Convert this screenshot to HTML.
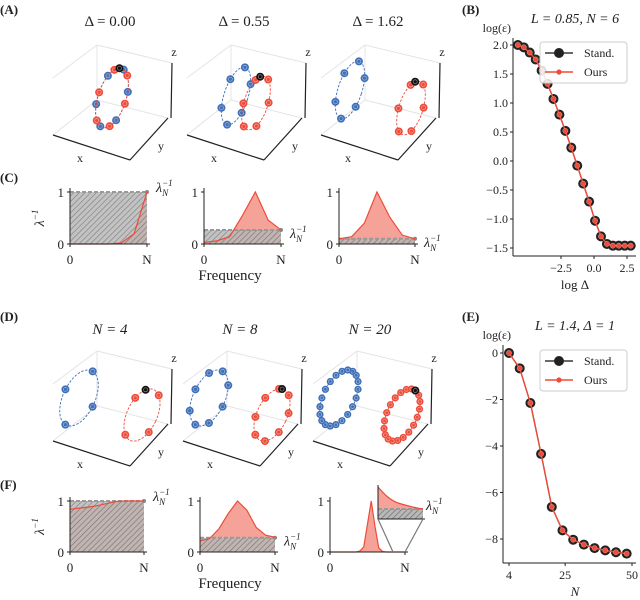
<!DOCTYPE html>
<html><head><meta charset="utf-8"><style>
body{margin:0;background:#fff}
svg{display:block;font-family:"Liberation Serif",serif}
</style></head><body>
<svg id="fig" width="640" height="600" viewBox="0 0 640 600" xmlns="http://www.w3.org/2000/svg">
<defs>
<pattern id="hatch" width="4" height="4" patternUnits="userSpaceOnUse" patternTransform="rotate(45)">
<rect width="4" height="4" fill="#b8b8b8"/>
<line x1="0" y1="0" x2="0" y2="4" stroke="#6a6a6a" stroke-width="1.3"/>
</pattern>
</defs>
<g id="root"></g>
</svg>
<script>
// ---- Panel B data ----
const bX = [-5.77,-5.32,-4.87,-4.42,-3.97,-3.52,-3.07,-2.62,-2.17,-1.72,-1.27,-0.82,-0.37,0.08,0.53,0.98,1.43,1.88,2.33,2.78];
const bStand = [2.0,1.96,1.87,1.75,1.56,1.33,1.07,0.80,0.52,0.23,-0.08,-0.39,-0.70,-1.03,-1.30,-1.43,-1.46,-1.46,-1.46,-1.46];
const bOurs = [2.0,1.96,1.87,1.75,1.56,1.33,1.07,0.80,0.52,0.23,-0.08,-0.39,-0.70,-1.03,-1.30,-1.43,-1.46,-1.46,-1.46,-1.46];
const bYTicks = [-1.5,-1.0,-0.5,0.0,0.5,1.0,1.5,2.0];
const bXTicks = [-2.5,0.0,2.5];
// ---- Panel E data ----
const eN = [4,8,12,16,20,24,28,32,36,40,44,48];
const eStand = [0,-0.66,-2.15,-4.34,-6.62,-7.63,-8.03,-8.24,-8.39,-8.49,-8.57,-8.63];
const eOurs = [0,-0.66,-2.15,-4.34,-6.62,-7.63,-8.03,-8.24,-8.39,-8.49,-8.57,-8.63];
const eYTicks = [0,-2,-4,-6,-8];
const eXTicks = [4,25,50];
// ---- spectra (evenly spaced over 0..N) ----
const c1Vals = [0,0,0,0,0.02,0.2,1];
const c2Vals = [0.03,0.06,0.14,0.55,1.0,0.46,0.27];
const c3Vals = [0.1,0.14,0.4,1.0,0.52,0.17,0.1];
const cLams = [1.0,0.27,0.1];
const f1Vals = [0.84,0.86,0.88,0.91,0.95,0.99,1.0,1.0,1.0];
const f2Vals = [0.22,0.26,0.45,0.75,1.0,0.82,0.48,0.33,0.29];
const f3Vals = [0,0,0,0,0,0,0,0,0.02,0.1,0.55,1.0,0.5,0.08,0.01,0,0,0,0,0,0];
const fLams = [1.0,0.28,0.0];
const aTitles = ["Δ = 0.00","Δ = 0.55","Δ = 1.62"];
const dTitles = ["N = 4","N = 8","N = 20"];
const dCounts = [4,8,20];

const NS="http://www.w3.org/2000/svg";
const root=document.getElementById('root');
function el(tag,attrs,parent,txt){const e=document.createElementNS(NS,tag);for(const k in attrs)e.setAttribute(k,attrs[k]);if(txt!==undefined)e.textContent=txt;(parent||root).appendChild(e);return e;}
function grp(name){const g=el('g',{});


return g;}
function txt(g,x,y,s,size,anchor,name,extra){const t=el('text',Object.assign({x:x,y:y,'font-size':size,'text-anchor':anchor||'start',fill:'#222'},extra||{}),g,s);


return t;}
const BLUE='#3f6fb8',RED='#ee4b3a',RFILL='#f5a398';

[["(A)",0,14],["(C)",0,182],["(D)",0,321],["(F)",0,489],["(B)",462,14],["(E)",462,321]].forEach(p=>{
 txt(root,p[1],p[2],p[0],13,'start','panel-label',{'font-weight':'bold'});});

function marker(g,x,y,c,r){const m=el('circle',{cx:x,cy:y,r:r||4,fill:c},g);


el('circle',{cx:x,cy:y,r:(r||4)*0.5,fill:'none',stroke:'#fff','stroke-opacity':0.5,'stroke-width':0.7},g);}
function ellipse(g,cx,cy,rx,ry,col,n,t0,black,tilt){
 const th=(tilt||18)*Math.PI/180,ct=Math.cos(th),st=Math.sin(th);
 const P=t=>{const a=rx*Math.cos(t),b=ry*Math.sin(t);return [cx+a*ct-b*st, cy+a*st+b*ct];};
 let d='';for(let i=0;i<=60;i++){const p=P(2*Math.PI*i/60);d+=(i?'L':'M')+p[0].toFixed(1)+','+p[1].toFixed(1);}
 const e=el('path',{d:d,fill:'none',stroke:col,'stroke-width':0.9,'stroke-dasharray':'2.5,1.5'},g);
 
 
 for(let k=0;k<n;k++){const p=P(t0+2*Math.PI*k/n);marker(g,p[0],p[1],col,n>10?3.6:4);}
 if(black){const p=P(t0-2*Math.PI/(n*2)-0.2);marker(g,p[0],p[1],'#111',4);}
}
function box3d(g,dx,dy){
 const L=(a,b,c,d,s,w)=>el('line',{x1:a+dx,y1:b+dy,x2:c+dx,y2:d+dy,stroke:s,'stroke-width':w},g);
 L(53,78,97,45,'#e4e4e4',1);L(97,45,172,63,'#e4e4e4',1);L(97,45,97,100,'#e4e4e4',1);
 L(97,100,53,135,'#e4e4e4',1);L(97,100,168,118,'#e4e4e4',1);
 L(53,135,130,160,'#222',1.2);L(130,160,168,118,'#222',1.2);L(171,118,172,63,'#222',1.2);
 txt(g,80+dx,162+dy,'x',12,'middle','x-axis-label');
 txt(g,161+dx,150+dy,'y',12,'middle','y-axis-label');
 txt(g,174+dx,56+dy,'z',12,'middle','z-axis-label');
}
for(let i=0;i<3;i++){const g=grp('orbit-3d-plot-a'+(i+1));const dx=134*i;box3d(g,dx,0);
 txt(g,110+dx,26,aTitles[i],15,'middle','subplot-title');}
ellipse(root,112,98,14,31,BLUE,6,-1.4,false);
ellipse(root,112,98,14,31,RED,6,-1.0,true);
ellipse(root,236,96,12,30,BLUE,6,-1.6,false);
ellipse(root,256,103,12,28,RED,6,-1.2,true);
ellipse(root,350,90,12,30,BLUE,6,-1.6,false);
ellipse(root,411,108,12,28,RED,6,-1.2,true);
for(let i=0;i<3;i++){const g=grp('orbit-3d-plot-d'+(i+1));const dx=130*i;box3d(g,dx,306);
 txt(g,110+dx,334,dTitles[i],15,'middle','subplot-title',{'font-style':'italic'});
 ellipse(g,79+dx,398,16,30,BLUE,dCounts[i],-1.5,false,25);
 ellipse(g,142+dx,415,15,28,RED,dCounts[i],-1.1,true,25);}

function spectrum(name,x0,x1,y0,y1,vals,lam,ylab){
 const g=grp(name);const sx=f=>x0+f*(x1-x0),sy=v=>y0-v*(y0-y1);
 const n=vals.length;let pts=vals.map((v,i)=>[sx(i/(n-1)),sy(v)]);
 let d='M'+sx(0)+','+y0;pts.forEach(p=>d+='L'+p[0].toFixed(1)+','+p[1].toFixed(1));d+='L'+sx(1)+','+y0+'Z';
 const f=el('path',{d:d,fill:RFILL},g);
 if(lam>0){
 const h=el('rect',{x:x0,y:sy(lam),width:x1-x0,height:y0-sy(lam),fill:'url(#hatch)','fill-opacity':0.85},g);
 
 el('line',{x1:x0,y1:sy(lam),x2:x1,y2:sy(lam),stroke:'#999','stroke-width':2,'stroke-dasharray':'4,2'},g);
 el('circle',{cx:x1,cy:sy(lam),r:2,fill:'#888'},g);}
 const pl=el('polyline',{points:pts.map(p=>p.join(',')).join(' '),fill:'none',stroke:RED,'stroke-width':1.2},g);
 
 el('line',{x1:x0,y1:y1-4,x2:x0,y2:y0,stroke:'#222','stroke-width':1},g);
 el('line',{x1:x0,y1:y0,x2:x1+3,y2:y0,stroke:'#222','stroke-width':1},g);
 [[0,'0'],[1,'1']].forEach(t=>{el('line',{x1:x0-3,y1:sy(t[0]),x2:x0,y2:sy(t[0]),stroke:'#222'},g);txt(g,x0-6,sy(t[0])+5,t[1],13,'end','y-tick-label');});
 [[0,'0'],[1,'N']].forEach(t=>{el('line',{x1:sx(t[0]),y1:y0,x2:sx(t[0]),y2:y0+3,stroke:'#222'},g);txt(g,sx(t[0]),y0+20,t[1],13,'middle','x-tick-label');});
 if(lam>0){const lt=txt(g,x1+9,sy(lam)+(lam>0.9?0:8),'λ',14,'start','lambda-label',{'font-style':'italic'});
 el('tspan',{'font-size':9,dy:4},lt,'N');el('tspan',{'font-size':9,dy:-10,dx:-6},lt,'−1');}
 if(ylab){const t=txt(g,0,0,'λ',14,'middle','y-axis-title',{transform:'translate('+(44)+','+((y0+y1)/2)+') rotate(-90)','font-style':'italic'});el('tspan',{'font-size':9,dy:-6},t,'−1');}
 return g;}
spectrum('spectrum-c1',70,147,244,192,c1Vals,cLams[0],true);
spectrum('spectrum-c2',204,281,244,192,c2Vals,cLams[1],false);
spectrum('spectrum-c3',339,415,244,192,c3Vals,cLams[2],false);
txt(root,230,280,'Frequency',15,'middle','x-axis-title');
spectrum('spectrum-f1',70,144,552,501,f1Vals,fLams[0],true);
spectrum('spectrum-f2',200,275,552,501,f2Vals,fLams[1],false);
spectrum('spectrum-f3',330,405,552,501,f3Vals,fLams[2],false);
{const ig=grp('inset-zoom');
 el('path',{d:'M378,487 C385,495 390,500 398,503 C408,506 415,508 423,509 L423,519 L378,519Z',fill:RFILL},ig);
 el('rect',{x:378,y:509,width:45,height:10,fill:'url(#hatch)'},ig);
 el('line',{x1:378,y1:509,x2:423,y2:509,stroke:'#999','stroke-width':2,'stroke-dasharray':'4,2'},ig);
 el('path',{d:'M378,487 C385,495 390,500 398,503 C408,506 415,508 423,509',fill:'none',stroke:RED,'stroke-width':1.2},ig);
 el('polyline',{points:'378,485 378,519 425,519',fill:'none',stroke:'#222','stroke-width':1},ig);
 el('line',{x1:378,y1:519,x2:393,y2:552,stroke:'#777','stroke-width':1.2},ig);
 el('line',{x1:423,y1:519,x2:405,y2:552,stroke:'#777','stroke-width':1.2},ig);
 const lt=txt(ig,426,510,'λ',14,'start','lambda-label',{'font-style':'italic'});
 el('tspan',{'font-size':9,dy:4},lt,'N');el('tspan',{'font-size':9,dy:-10,dx:-6},lt,'−1');}
txt(root,230,588,'Frequency',15,'middle','x-axis-title');

function lineChart(name,xs,ys,X,S,O,xt,yt,yfmt,ax,title,xlab,xlabItalic,spine,legY){
 const g=grp(name);
 el('line',{x1:spine.x,y1:spine.top,x2:spine.x,y2:spine.bot,stroke:'#222'},g);
 el('line',{x1:spine.x,y1:spine.bot,x2:636,y2:spine.bot,stroke:'#222'},g);
 yt.forEach(v=>{el('line',{x1:spine.x-3,y1:ys(v),x2:spine.x,y2:ys(v),stroke:'#222'},g);txt(g,spine.x-5,ys(v)+4,yfmt(v),12,'end','y-tick-label');});
 xt.forEach(v=>{el('line',{x1:xs(v),y1:spine.bot,x2:xs(v),y2:spine.bot+3,stroke:'#222'},g);txt(g,xs(v),spine.bot+16,(v<0?'−':'')+ax(Math.abs(v)),12,'middle','x-tick-label');});
 txt(g,511,spine.top-6,'log(ε)',12,'end','y-axis-title');
 txt(g,575,spine.top-15,title,14,'middle','chart-title',{'font-style':'italic'});
 txt(g,575,spine.bot+33,xlab,13,'middle','x-axis-title',xlabItalic?{'font-style':'italic'}:{});
 const pS=X.map((x,i)=>xs(x)+','+ys(S[i])).join(' ');
 const pO=X.map((x,i)=>xs(x)+','+ys(O[i])).join(' ');
 el('polyline',{points:pS,fill:'none',stroke:'#111','stroke-width':1.2},g);
 X.forEach((x,i)=>{const c=el('circle',{cx:xs(x),cy:ys(S[i]),r:5,fill:'#222'},g);
  });
 el('polyline',{points:pO,fill:'none',stroke:RED,'stroke-width':1.4},g);
 X.forEach((x,i)=>{const c=el('circle',{cx:xs(x),cy:ys(O[i]),r:2.6,fill:RED,stroke:'#f8a090','stroke-width':0.5},g);
  });
 const lg=grp('legend');g.appendChild(lg);
 el('rect',{x:540,y:legY,width:87,height:41,rx:3,fill:'#fff','fill-opacity':0.85,stroke:'#ccc'},lg);
 el('line',{x1:545,y1:legY+11,x2:573,y2:legY+11,stroke:'#111','stroke-width':1.2},lg);
 el('circle',{cx:559,cy:legY+11,r:5,fill:'#222'},lg);
 txt(lg,584,legY+15,'Stand.',12,'start','legend-entry-stand');
 el('line',{x1:545,y1:legY+30,x2:573,y2:legY+30,stroke:RED,'stroke-width':1.4},lg);
 el('circle',{cx:559,cy:legY+30,r:2.6,fill:RED},lg);
 txt(lg,584,legY+34,'Ours',12,'start','legend-entry-ours');
}
lineChart('chart-b',v=>594+v*13.2,v=>45+(2-v)*58,bX,bStand,bOurs,bXTicks,bYTicks,v=>(v<0?'−':'')+Math.abs(v).toFixed(1),v=>v.toFixed(1),'L = 0.85, N = 6','log Δ',false,{x:513,top:38,bot:256},42);
lineChart('chart-e',v=>509+(v-4)*2.674,v=>353-v*23.25,eN,eStand,eOurs,eXTicks,eYTicks,v=>(v<0?'−':'')+Math.abs(v),v=>String(v),'L = 1.4, Δ = 1','N',true,{x:503,top:345,bot:563},350);
</script>
</body></html>
